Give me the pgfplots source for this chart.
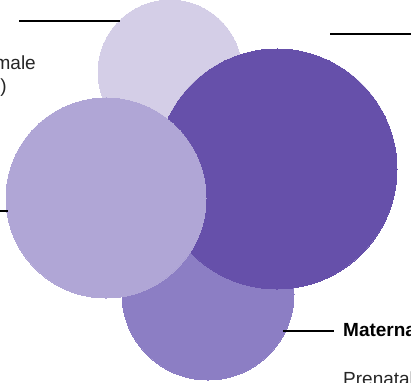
\documentclass[border=0pt]{standalone}
\usepackage{pgfplots}
\pgfplotsset{compat=1.18}
\usepackage{fontspec}
\setmainfont{Liberation Sans}
\definecolor{cTop}{HTML}{D4CEE7}
\definecolor{cDark}{HTML}{6650AA}
\definecolor{cLeft}{HTML}{B0A6D6}
\definecolor{cBot}{HTML}{8C7EC4}
\begin{document}
\begin{tikzpicture}
\begin{axis}[
  width=411pt, height=385pt, scale only axis,
  xmin=0, xmax=411, ymin=0, ymax=385, y dir=reverse,
  hide axis, clip=true, clip marker paths=true,
]
% top light circle
\addplot[only marks, mark=*, mark size=72pt, mark options={draw=cTop, fill=cTop, line width=0pt}] coordinates {(170,75)};
% bottom circle
\addplot[only marks, mark=*, mark size=86pt, mark options={draw=cBot, fill=cBot, line width=0pt}] coordinates {(208,297)};
% big dark circle
\addplot[only marks, mark=*, mark size=120pt, mark options={draw=cDark, fill=cDark, line width=0pt}] coordinates {(277,172)};
% left circle
\addplot[only marks, mark=*, mark size=100pt, mark options={draw=cLeft, fill=cLeft, line width=0pt}] coordinates {(106,201)};
% leader lines
\addplot[black, line width=2.8pt, no marks] coordinates {(19,24) (120,24)};
\addplot[black, line width=2.8pt, no marks] coordinates {(330,37) (411,37)};
\addplot[black, line width=2.8pt, no marks] coordinates {(0,214) (8,214)};
\addplot[black, line width=2.8pt, no marks] coordinates {(283,334) (334,334)};
% labels
\node[anchor=base east, inner sep=0pt, text=black!85, font=\fontsize{19}{22}\selectfont] at (axis cs:36,73) {Female};
\node[anchor=base east, inner sep=0pt, text=black!85, font=\fontsize{19}{22}\selectfont] at (axis cs:7,96) {(Mother)};
\node[anchor=base west, inner sep=0pt, text=black, font=\fontsize{19}{22}\selectfont\bfseries] at (axis cs:343,339) {Maternal};
\node[anchor=base west, inner sep=0pt, text=black!85, font=\fontsize{19}{22}\selectfont] at (axis cs:343,388) {Prenatal};
\end{axis}
\end{tikzpicture}
\end{document}
